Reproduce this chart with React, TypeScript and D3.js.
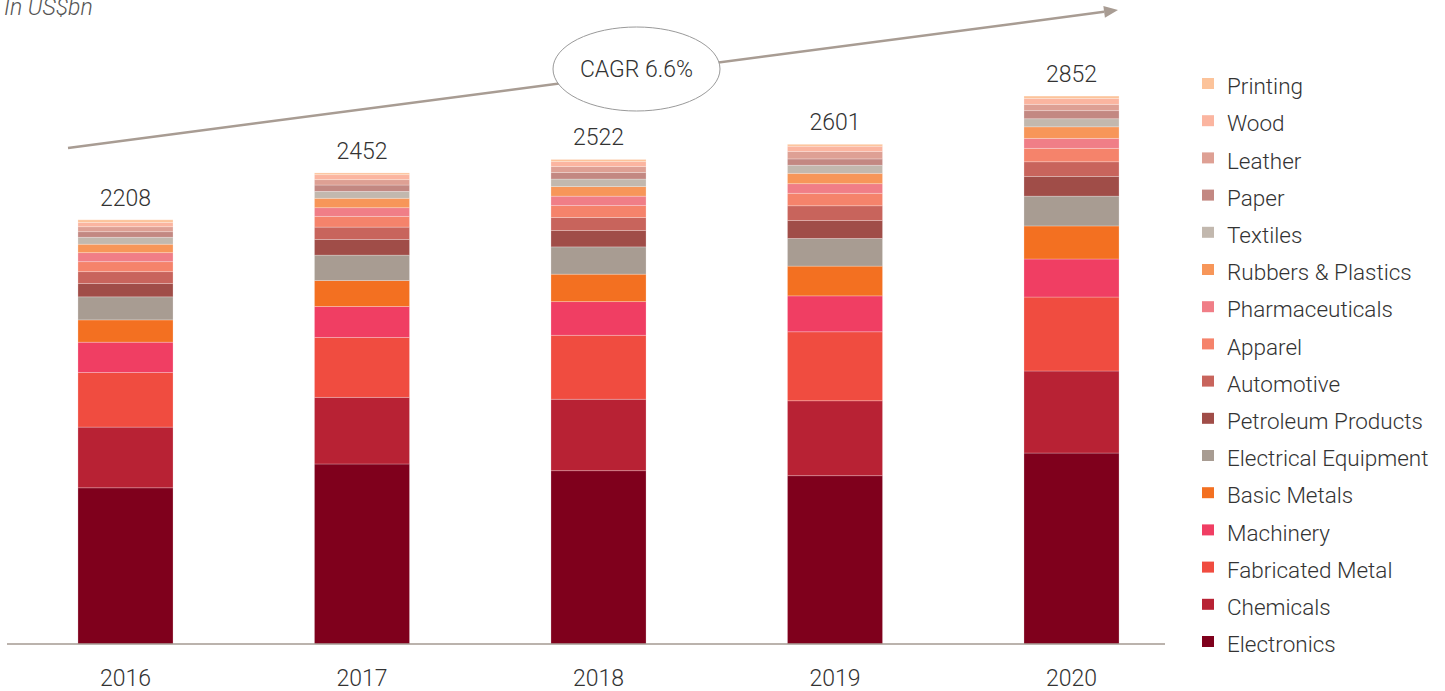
import React from 'react';
import * as d3 from 'd3';

const years = ['2016', '2017', '2018', '2019', '2020'];
const totals = [2208, 2452, 2522, 2601, 2852];
const categories = [
  'Electronics', 'Chemicals', 'Fabricated Metal', 'Machinery', 'Basic Metals',
  'Electrical Equipment', 'Petroleum Products', 'Automotive', 'Apparel',
  'Pharmaceuticals', 'Rubbers & Plastics', 'Textiles', 'Paper', 'Leather', 'Wood', 'Printing',
];
const electronics = [813, 937, 902, 876, 994];
const chemicals = [316, 347, 372, 390, 427];
const fabricatedMetal = [284, 312, 333, 359, 385];
const machinery = [158, 161, 175, 187, 198];
const basicMetals = [116, 135, 143, 155, 172];
const electricalEquipment = [120, 132, 142, 144, 155];
const petroleumProducts = [69, 82, 85, 93, 103];
const automotive = [62, 64, 68, 77, 76];
const apparel = [52, 56, 62, 65, 70];
const pharmaceuticals = [47, 45, 49, 50, 52];
const rubbersPlastics = [44, 49, 50, 54, 60];
const textiles = [36, 36, 39, 42, 42];
const paper = [29, 33, 34, 33, 42];
const leather = [26, 28, 31, 38, 33];
const wood = [22, 26, 26, 28, 31];
const printing = [14, 9, 11, 10, 12];
const seriesValues = [
  electronics, chemicals, fabricatedMetal, machinery, basicMetals, electricalEquipment,
  petroleumProducts, automotive, apparel, pharmaceuticals, rubbersPlastics, textiles,
  paper, leather, wood, printing,
];
const colors = [
  '#7f001c', '#b82234', '#f04c40', '#f03e63', '#f37021', '#a89c92',
  '#a04d48', '#c8645c', '#f5836b', '#f07e87', '#f79659', '#c2b8ae',
  '#c38882', '#dea094', '#fbb5a0', '#fcc39a',
];
const cagrLabel = 'CAGR 6.6%';
const unitLabel = 'In US$bn';

const W = 1445;
const H = 691;
const FONT = "Roboto, 'Open Sans', 'Liberation Sans', sans-serif";

export default function App() {
  const rows = years.map((y, i) => {
    const r: any = { year: y };
    categories.forEach((c, k) => { r[c] = seriesValues[k][i]; });
    return r;
  });
  const stacked = d3.stack().keys(categories)(rows);

  const x = d3.scaleBand().domain(years).range([7, 1190]).paddingInner(0.598).paddingOuter(0.3);
  const y = d3.scaleLinear().domain([0, 3000]).range([644, 644 - 3000 * 0.19212]);
  const color = d3.scaleOrdinal<string, string>().domain(categories).range(colors);

  const legendItems = categories.slice().reverse();
  const legendY = d3.scalePoint().domain(legendItems).range([86, 644]);

  const ax0 = 68, ay0 = 148, ax1 = 1118, ay1 = 10;
  const ang = Math.atan2(ay1 - ay0, ax1 - ax0);
  const headLen = 14, headW = 6;
  const bx = ax1 - headLen * Math.cos(ang);
  const by = ay1 - headLen * Math.sin(ang);
  const px = -Math.sin(ang), py = Math.cos(ang);
  const head = `M${ax1},${ay1}L${bx + px * headW},${by + py * headW}L${bx - px * headW},${by - py * headW}Z`;

  return (
    <svg width={W} height={H} style={{ position: 'absolute', left: 0, top: 0, background: '#fff' }} fontFamily={FONT}>
      <text x={4} y={15} fontSize={23} fontStyle="italic" fill="#555" fontWeight={300}>{unitLabel}</text>

      <line x1={ax0} y1={ay0} x2={bx} y2={by} stroke="#a89c93" strokeWidth={2.5} />
      <path d={head} fill="#a89c93" />
      <ellipse cx={636.5} cy={69} rx={83.5} ry={42} fill="#fff" stroke="#9a9a9a" strokeWidth={1} />
      <text x={636.5} y={69} dy="0.36em" textAnchor="middle" fontSize={23} fill="#333" fontWeight={300}>{cagrLabel}</text>

      {stacked.map((s) => (
        <g key={s.key} fill={color(s.key)}>
          {s.map((d: any, i: number) => (
            <rect
              key={i}
              x={x(years[i])}
              y={y(d[1])}
              width={x.bandwidth()}
              height={y(d[0]) - y(d[1])}
              stroke="rgba(255,255,255,0.3)"
              strokeWidth={0.8}
            />
          ))}
        </g>
      ))}

      {years.map((yr, i) => (
        <text key={yr} x={(x(yr) as number) + x.bandwidth() / 2} y={y(totals[i]) - 14}
          textAnchor="middle" fontSize={23} fill="#333" fontWeight={300}>{totals[i]}</text>
      ))}

      <line x1={7} x2={1165} y1={y(0)} y2={y(0)} stroke="#a59a92" strokeWidth={1.5} />
      {years.map((yr) => (
        <text key={yr} x={(x(yr) as number) + x.bandwidth() / 2} y={686}
          textAnchor="middle" fontSize={23} fill="#333" fontWeight={300}>{yr}</text>
      ))}

      {legendItems.map((c) => (
        <g key={c} transform={`translate(1202,${legendY(c)})`}>
          <rect x={0} y={-8} width={12} height={11} fill={color(c)} />
          <text x={25} y={0} dy="0.36em" fontSize={22.5} fill="#333" fontWeight={300}>{c}</text>
        </g>
      ))}
    </svg>
  );
}
